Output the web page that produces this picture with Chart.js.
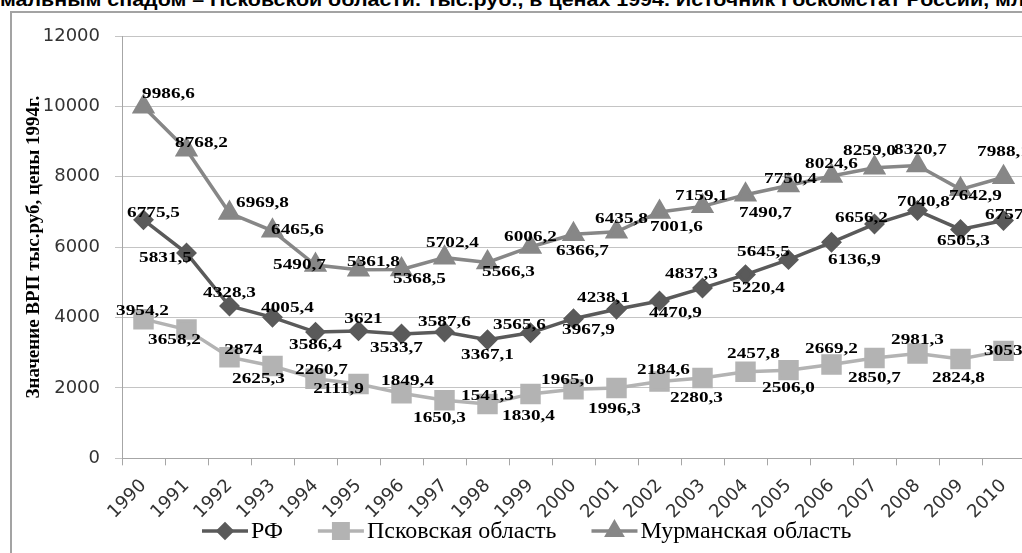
<!DOCTYPE html>
<html>
<head>
<meta charset="utf-8">
<script src="https://cdn.jsdelivr.net/npm/chart.js@4.4.1/dist/chart.umd.min.js"></script>
<style>
  html, body { margin: 0; padding: 0; width: 1022px; height: 553px; overflow: hidden; background: #fff; }
  #cut { position: absolute; left: 0; top: -9px; font: bold 18px "Liberation Sans", Arial, sans-serif; line-height: 18px;
         white-space: nowrap; transform: scaleX(1.19); transform-origin: left top; color: #000; }
  #frame { position: absolute; left: 10px; top: 11px; width: 2000px; height: 2000px;
           border-left: 2px solid #a3a3a3; border-top: 2px solid #a3a3a3; }
  #chart { position: absolute; left: 0; top: 0; }
</style>
</head>
<body>
<div id="cut">мальным спадом – Псковской области. тыс.руб., в ценах 1994. Источник Госкомстат России, млн.руб.</div>
<div id="frame"></div>
<canvas id="chart" width="1050" height="553"></canvas>
<script>
// ВРП на душу населения, тыс.руб, цены 1994 г.

const years = ["1990", "1991", "1992", "1993", "1994", "1995", "1996", "1997", "1998", "1999", "2000",
               "2001", "2002", "2003", "2004", "2005", "2006", "2007", "2008", "2009", "2010"];

const rf = [6775.5, 5831.5, 4328.3, 4005.4, 3586.4, 3621, 3533.7, 3587.6, 3367.1, 3565.6, 3967.9,
            4238.1, 4470.9, 4837.3, 5220.4, 5645.5, 6136.9, 6656.2, 7040.8, 6505.3, 6757.3];

const pskov = [3954.2, 3658.2, 2874, 2625.3, 2260.7, 2111.9, 1849.4, 1650.3, 1541.3, 1830.4, 1965.0,
               1996.3, 2184.6, 2280.3, 2457.8, 2506.0, 2669.2, 2850.7, 2981.3, 2824.8, 3053.5];

const murmansk = [9986.6, 8768.2, 6969.8, 6465.6, 5490.7, 5361.8, 5368.5, 5702.4, 5566.3, 6006.2, 6366.7,
                  6435.8, 7001.6, 7159.1, 7490.7, 7750.4, 8024.6, 8259.0, 8320.7, 7642.9, 7988.1];

// points whose label is printed without a decimal part
const wholeLabels = [[5], [2], []];

const yTicks = [0, 2000, 4000, 6000, 8000, 10000, 12000];

// label placement relative to the marker, px
const labelShift = [
    [[10,-7],[-21,5],[0,-13],[15,-9],[0,13],[5,-12],[-5,14],[0,-10],[0,15],[-11,-8],[15,11],
     [-13,-11],[16,12],[-11,-14],[13,14],[-25,-8],[23,18],[-13,-6],[6,-8],[3,12],[8,-5]],
    [[-1,-8],[-12,11],[14,-7],[-14,13],[6,-9],[-20,5],[6,-12],[-5,18],[0,-8],[-2,22],[-6,-9],
     [-2,21],[4,-11],[-6,20],[8,-18],[0,18],[0,-15],[0,20],[0,-13],[-2,19],[7,0]],
    [[25,-13],[15,-7],[33,-10],[25,-1],[-16,0],[15,-8],[18,10],[8,-15],[21,10],[0,-10],[9,17],
     [5,-13],[17,15],[-1,-10],[20,18],[2,-6],[0,-12],[-5,-17],[3,-15],[15,7],[0,-25]]
];

function fmt(v, ds, i) {
    if (wholeLabels[ds].includes(i)) return String(Math.round(v));
    return v.toFixed(1).replace(".", ",");
}

function wideText(ctx, text, x, y, sx) {
    ctx.save();
    ctx.translate(x, y);
    ctx.scale(sx, 1);
    ctx.fillText(text, 0, 0);
    ctx.restore();
}

const pointLabels = {
    id: "pointLabels",
    afterDatasetsDraw(chart) {
        const ctx = chart.ctx;
        ctx.save();
        ctx.font = "bold 15px 'Liberation Serif', 'Times New Roman', serif";
        ctx.fillStyle = "#000";
        ctx.textAlign = "center";
        ctx.textBaseline = "middle";
        chart.data.datasets.forEach((ds, d) => {
            chart.getDatasetMeta(d).data.forEach((pt, i) => {
                const s = labelShift[d][i];
                wideText(ctx, fmt(ds.data[i], d, i), pt.x + s[0], pt.y + s[1], 1.28);
            });
        });
        ctx.restore();
    }
};

const lineLegend = {
    id: "lineLegend",
    afterDraw(chart) {
        const ctx = chart.ctx;
        const y = 531;
        let x = 202;
        ctx.save();
        ctx.font = "24px 'Liberation Serif', 'Times New Roman', serif";
        ctx.textBaseline = "middle";
        ctx.textAlign = "left";
        chart.data.datasets.forEach(ds => {
            ctx.strokeStyle = ds.borderColor;
            ctx.lineWidth = ds.borderWidth;
            ctx.beginPath();
            ctx.moveTo(x, y);
            ctx.lineTo(x + 46, y);
            ctx.stroke();
            ctx.fillStyle = ds.pointBackgroundColor;
            ctx.strokeStyle = ds.pointBackgroundColor;
            Chart.helpers.drawPoint(ctx, {pointStyle: ds.pointStyle, radius: ds.pointRadius * 0.85, rotation: 0, borderWidth: 1}, x + 23, y);
            ctx.fillStyle = "#000";
            const w = ctx.measureText(ds.label).width;
            ctx.fillText(ds.label, x + 49, y + 1);
            x += 49 + w + 35;
        });
        ctx.restore();
    }
};

new Chart(document.getElementById("chart"), {
    type: "line",
    data: {
        labels: years,
        datasets: [{
            label: "РФ",
            data: rf,
            borderColor: "#5a5a5a",
            borderWidth: 3.5,
            pointStyle: "rectRot",
            pointRadius: 8,
            pointBackgroundColor: "#5a5a5a",
            pointBorderColor: "#5a5a5a"
        }, {
            label: "Псковская область",
            data: pskov,
            borderColor: "#b3b3b3",
            borderWidth: 3.5,
            pointStyle: "rect",
            pointRadius: 12,
            pointBackgroundColor: "#b3b3b3",
            pointBorderColor: "#b3b3b3"
        }, {
            label: "Мурманская область",
            data: murmansk,
            borderColor: "#878787",
            borderWidth: 3.5,
            pointStyle: "triangle",
            pointRadius: 10,
            pointBackgroundColor: "#878787",
            pointBorderColor: "#878787"
        }]
    },
    options: {
        responsive: false,
        animation: false,
        layout: { padding: { left: 19, right: 25, top: 36, bottom: 20 } },
        plugins: { legend: { display: false }, tooltip: { enabled: false } },
        scales: {
            x: {
                offset: true,
                grid: { offset: true, drawOnChartArea: false, tickLength: 7, color: "#a6a6a6" },
                border: { color: "#a6a6a6" },
                ticks: {
                    minRotation: 45, maxRotation: 45, color: "#333", padding: 10,
                    font: { family: "'DejaVu Sans', sans-serif", size: 18 }
                }
            },
            y: {
                min: 0,
                max: 12000,
                afterBuildTicks(axis) { axis.ticks = yTicks.map(v => ({ value: v })); },
                afterFit(axis) { axis.width = 103; },
                grid: { color: "#c4c4c4", tickLength: 7 },
                border: { color: "#a6a6a6" },
                ticks: {
                    color: "#333", padding: 15,
                    font: { family: "'DejaVu Sans', sans-serif", size: 18 },
                    callback: v => String(v)
                },
                title: {
                    display: true,
                    text: "Значение ВРП тыс.руб, цены 1994г.",
                    color: "#000",
                    font: { family: "'Liberation Serif', 'Times New Roman', serif", size: 19, weight: "bold" }
                }
            }
        }
    },
    plugins: [pointLabels, lineLegend]
});
</script>
</body>
</html>
